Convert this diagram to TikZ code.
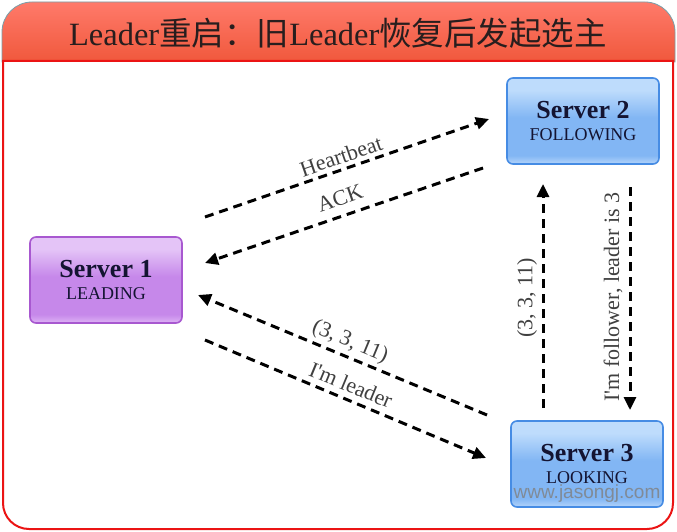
\documentclass[tikz,border=0pt]{standalone}
\usepackage{fontspec}
\setmainfont{Liberation Serif}
\newfontfamily\cjk{Noto Sans CJK SC}
\newfontfamily\wmfont{Liberation Sans}
\newfontfamily\lblfont{Liberation Serif}
\usetikzlibrary{arrows.meta}
\definecolor{purpTop}{RGB}{228,196,247}
\definecolor{purpMid}{RGB}{198,136,234}
\definecolor{purpBot}{RGB}{222,180,245}
\definecolor{purpLine}{RGB}{168,88,208}
\definecolor{bluTop}{RGB}{190,220,252}
\definecolor{bluMid}{RGB}{130,182,244}
\definecolor{bluBot}{RGB}{180,212,250}
\definecolor{bluLine}{RGB}{70,140,228}
\definecolor{titleTop}{RGB}{255,122,106}
\definecolor{titleBot}{RGB}{240,88,60}
\definecolor{frameRed}{RGB}{235,20,20}
\definecolor{lblGray}{RGB}{64,64,64}
\definecolor{srvText}{RGB}{20,20,50}
\pgfdeclareverticalshading{purpgloss}{100bp}{color(0bp)=(purpBot); color(25bp)=(purpBot); color(30bp)=(purpMid); color(52bp)=(purpMid); color(68bp)=(purpTop); color(75bp)=(purpTop); color(100bp)=(purpTop)}
\pgfdeclareverticalshading{blugloss}{100bp}{color(0bp)=(bluBot); color(25bp)=(bluBot); color(30bp)=(bluMid); color(52bp)=(bluMid); color(68bp)=(bluTop); color(75bp)=(bluTop); color(100bp)=(bluTop)}
\tikzset{
  serverbox/.style={rounded corners=6pt, line width=1.6pt, minimum width=152pt,
     minimum height=86pt, align=center, inner sep=0pt, text=srvText},
  purplebox/.style={serverbox, draw=purpLine, shading=purpgloss},
  bluebox/.style={serverbox, draw=bluLine, shading=blugloss},
  msg/.style={line width=3pt, dash pattern=on 9pt off 6pt, -{Triangle[length=13pt,width=12pt]}},
  lbl/.style={text=lblGray, font=\lblfont\fontsize{22}{22}\selectfont, inner sep=1pt},
}
\newcommand{\srvname}[2]{{\bfseries\fontsize{26}{27}\selectfont #1}\\[9pt]{\fontsize{18}{18}\selectfont #2}}
\begin{document}
\begin{tikzpicture}[x=1pt,y=-1pt]
\useasboundingbox (0,0) rectangle (677,532);
% title band
\shade[top color=titleTop, bottom color=titleBot, draw={rgb,255:red,120;green,160;blue,170}, line width=0.8pt]
  (2,62) {[rounded corners=30pt] -- (2,2) -- (675,2)} -- (675,62) -- cycle;
% body
\filldraw[fill=white, draw=frameRed, line width=2pt]
  (3,61) -- (673,61) {[rounded corners=26pt] -- (673,529) -- (3,529)} -- cycle;
\node[text={rgb,255:red,40;green,30;blue,30}] (title) at (338,33) {\fontsize{32.5}{33}\selectfont Leader{\cjk 重启：旧}Leader{\cjk 恢复后发起选主}};

% servers
\node[purplebox] (s1) at (106,280) {\srvname{Server 1}{LEADING}};
\node[bluebox] (s2) at (583,121) {\srvname{Server 2}{FOLLOWING}};
\node[bluebox] (s3) at (587,464) {\srvname{Server 3}{LOOKING}};

% endpoints
\coordinate (hbA) at (205,217);
\coordinate (hbB) at (489,119);
\coordinate (ackA) at (483,168);
\coordinate (ackB) at (205,263);
\coordinate (vA) at (487,415);
\coordinate (vB) at (198,295);
\coordinate (ilA) at (205,340);
\coordinate (ilB) at (486,458);
\coordinate (upA) at (543,408);
\coordinate (upB) at (543,184);
\coordinate (dnA) at (630,187);
\coordinate (dnB) at (630,410);

\draw[msg] (hbA) -- (hbB);
\draw[msg] (ackA) -- (ackB);
\draw[msg] (vA) -- (vB);
\draw[msg] (ilA) -- (ilB);
\draw[msg] (upA) -- (upB);
\draw[msg] (dnA) -- (dnB);

% labels
\node[lbl, rotate=19] (lhb) at (341,156) {Heartbeat};
\node[lbl, rotate=19] (lack) at (340,198) {ACK};
\node[lbl, rotate=-22.5] (lv) at (350,342) {(3, 3, 11)};
\node[lbl, rotate=-22.5] (lil) at (351,385) {I'm leader};
\node[lbl, rotate=90] (lup) at (527,298) {(3, 3, 11)};
\node[lbl, rotate=90] (ldn) at (613,297) {I'm follower, leader is 3};

% watermark
\node[text=gray, opacity=0.8, font=\wmfont\fontsize{19}{19}\selectfont] (wm) at (587,494) {www.jasongj.com};
\end{tikzpicture}
\end{document}
